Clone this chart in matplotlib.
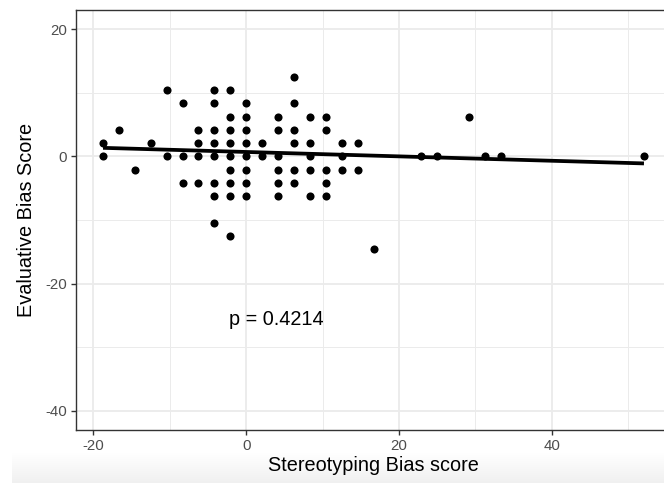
import numpy as np
import matplotlib
matplotlib.use("Agg")
import matplotlib.pyplot as plt
from matplotlib.ticker import MultipleLocator

plt.rcParams['font.family'] = ['Liberation Sans', 'DejaVu Sans']
plt.rcParams['axes.unicode_minus'] = False

# Stereotyping bias score (x) and evaluative bias score (y)
stereo = [6.25,
          -10.42, -4.17, -2.08,
          -8.33, -4.17, 0.0, 6.25,
          -2.08, 0.0, 4.17, 8.33, 10.42, 29.17,
          -16.67, -6.25, -4.17, -2.08, 0.0, 4.17, 6.25, 10.42,
          -18.75, -12.5, -6.25, -4.17, -2.08, 0.0, 2.08, 6.25, 8.33, 12.5, 14.58,
          -18.75, -10.42, -8.33, -6.25, -4.17, -2.08, 0.0, 2.08, 4.17, 8.33, 12.5,
          22.92, 25.0, 31.25, 33.33, 52.08,
          -14.58, -2.08, 0.0, 4.17, 6.25, 8.33, 10.42, 12.5, 14.58,
          -8.33, -6.25, -4.17, -2.08, 0.0, 4.17, 6.25, 10.42,
          -4.17, -2.08, 0.0, 4.17, 8.33, 10.42,
          -4.17,
          -2.08,
          16.67]
evaluative = [12.5,
              10.42, 10.42, 10.42,
              8.33, 8.33, 8.33, 8.33,
              6.25, 6.25, 6.25, 6.25, 6.25, 6.25,
              4.17, 4.17, 4.17, 4.17, 4.17, 4.17, 4.17, 4.17,
              2.08, 2.08, 2.08, 2.08, 2.08, 2.08, 2.08, 2.08, 2.08, 2.08, 2.08,
              0.0, 0.0, 0.0, 0.0, 0.0, 0.0, 0.0, 0.0, 0.0, 0.0, 0.0,
              0.0, 0.0, 0.0, 0.0, 0.0,
              -2.08, -2.08, -2.08, -2.08, -2.08, -2.08, -2.08, -2.08, -2.08,
              -4.17, -4.17, -4.17, -4.17, -4.17, -4.17, -4.17, -4.17,
              -6.25, -6.25, -6.25, -6.25, -6.25, -6.25,
              -10.42,
              -12.5,
              -14.58]
x_ticks = [-20, 0, 20, 40]
y_ticks = [-40, -20, 0, 20]
p_label = "p = 0.4214"

x = np.array(stereo)
y = np.array(evaluative)

W, H = 664, 483
fig = plt.figure(figsize=(W / 100, H / 100), dpi=100)
fig.patch.set_facecolor('white')

# subtle grey gradient band at the bottom (screenshot shadow)
bg = fig.add_axes([12 / W, 0, 1 - 12 / W, 30 / H], zorder=0)
grad = np.linspace(0, 1, 64).reshape(-1, 1)
bg.imshow(grad, aspect='auto', cmap=matplotlib.colors.LinearSegmentedColormap.from_list(
    'g', ['#f0f0f0', '#ffffff']), origin='lower', extent=[0, 1, 0, 1])
bg.axis('off')

ax = fig.add_axes([76 / W, 1 - 430 / H, 595 / W, 420 / H], zorder=1)
ax.set_facecolor('white')

ax.set_xlim(-22.29, 55.62)
ax.set_ylim(-43, 23)

ax.set_xticks(x_ticks)
ax.set_yticks(y_ticks)
ax.xaxis.set_minor_locator(MultipleLocator(10))
ax.yaxis.set_minor_locator(MultipleLocator(10))
ax.grid(which='major', color='#EBEBEB', linewidth=1.3, zorder=0)
ax.grid(which='minor', color='#EBEBEB', linewidth=0.7, zorder=0)
ax.set_axisbelow(True)

for s in ax.spines.values():
    s.set_color('#333333')
    s.set_linewidth(1.0)

ax.tick_params(which='major', length=3.6, width=1.0, color='#333333',
               labelsize=10.8, labelcolor='#4D4D4D', pad=3)
ax.tick_params(which='minor', length=0)

ax.scatter(x, y, s=34, color='black', zorder=3, linewidths=0)

slope, intercept = np.polyfit(x, y, 1)
xl = np.array([x.min(), x.max()])
ax.plot(xl, intercept + slope * xl, color='black', linewidth=2.7, zorder=4,
        solid_capstyle='butt')

ax.text(3.9, -25.7, p_label, fontsize=14.3, ha='center', va='center', color='black')

ax.set_xlabel('Stereotyping Bias score', fontsize=14.3, color='black')
ax.set_ylabel('Evaluative Bias Score', fontsize=14.3, color='black')
ax.xaxis.set_label_coords(0.5, -0.0857)
ax.xaxis.label.set_va('center')
ax.yaxis.set_label_coords(-0.0824, 0.5)
ax.yaxis.label.set_va('center')

fig.savefig('out.png', dpi=100)
